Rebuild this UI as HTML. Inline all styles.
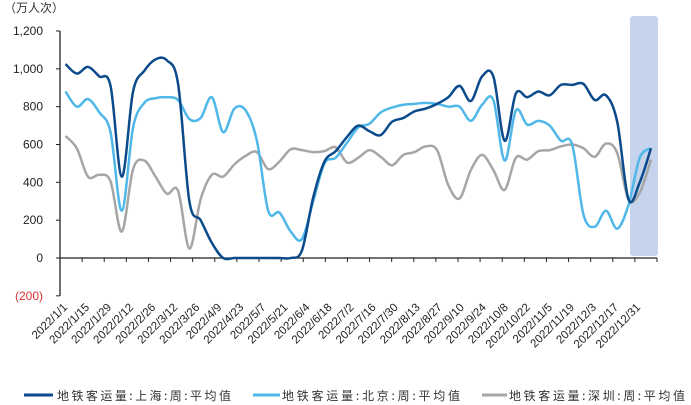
<!DOCTYPE html>
<html><head><meta charset="utf-8"><style>
html,body{margin:0;padding:0;background:#fff;}
svg{display:block;font-family:"Liberation Sans","Noto Sans CJK SC",sans-serif;}
</style></head><body>
<svg id="chart" width="691" height="405" viewBox="0 0 691 405">
<text x="4" y="12" font-size="12" fill="#333">（万人次）</text>
<rect x="630" y="16" width="28" height="240" rx="3" fill="#c5d3ec"/>
<g id="axes"></g>
<g id="series"></g>
<g id="legend" font-size="12" fill="#333">
<line x1="24" y1="395" x2="53" y2="395" stroke="#0b4a8b" stroke-width="3"/>
<text x="57" y="400" textLength="174" font-family="'Noto Sans CJK SC',sans-serif">地铁客运量:上海:周:平均值</text>
<line x1="253" y1="395" x2="280" y2="395" stroke="#4fb8e8" stroke-width="3"/>
<text x="282" y="400" textLength="178" font-family="'Noto Sans CJK SC',sans-serif">地铁客运量:北京:周:平均值</text>
<line x1="482" y1="395" x2="507" y2="395" stroke="#a6a6a6" stroke-width="3"/>
<text x="509" y="400" textLength="176" font-family="'Noto Sans CJK SC',sans-serif">地铁客运量:深圳:周:平均值</text>
</g>
</svg>
<script>
const yTicks = [1200,1000,800,600,400,200,0,-200];
const xLabels = ["2022/1/1","2022/1/15","2022/1/29","2022/2/12","2022/2/26","2022/3/12","2022/3/26","2022/4/9","2022/4/23","2022/5/7","2022/5/21","2022/6/4","2022/6/18","2022/7/2","2022/7/16","2022/7/30","2022/8/13","2022/8/27","2022/9/10","2022/9/24","2022/10/8","2022/10/22","2022/11/5","2022/11/19","2022/12/3","2022/12/17","2022/12/31"];
const shanghai = [1025,975,1010,960,910,430,880,990,1050,1045,920,300,200,80,0,0,0,0,0,0,0,40,320,510,565,640,700,670,650,720,740,775,790,815,850,910,830,960,960,620,870,850,880,860,915,915,920,835,860,720,310,400,580];
const beijing = [880,800,840,770,665,250,690,820,845,850,835,735,740,850,665,790,780,620,250,240,140,100,300,500,530,610,690,710,770,795,810,815,820,815,800,800,725,810,835,515,780,705,725,700,620,600,230,165,250,155,280,530,580];
const shenzhen = [645,580,430,440,405,140,470,515,430,340,355,50,310,440,430,495,540,560,470,510,575,570,560,565,585,505,530,570,535,490,545,560,590,570,385,315,465,545,465,360,530,520,565,570,590,600,580,535,605,555,310,345,520];

const NS="http://www.w3.org/2000/svg";
const X0=60, X1=657, N=53;
const xPt = i => 65.5 + i*(651-65.5)/(N-1);
const yPt = v => 258 - v*(258-31)/1200;
function mk(tag, attrs, parent){const e=document.createElementNS(NS,tag);for(const k in attrs)e.setAttribute(k,attrs[k]);parent.appendChild(e);return e;}
const axes=document.getElementById('axes');
const ya=mk('line',{x1:X0,y1:yPt(1200),x2:X0,y2:yPt(-200),stroke:'#222','stroke-width':1.3},axes);


yTicks.forEach(v=>{
  const t=mk('line',{x1:X0-4,y1:yPt(v),x2:X0,y2:yPt(v),stroke:'#222','stroke-width':1},axes);
  
  
  const lab=mk('text',{x:43,y:yPt(v)+4,'text-anchor':'end','font-size':12,fill:v<0?'#e03030':'#222'},axes);
  lab.textContent = v<0?'('+Math.abs(v)+')':v.toLocaleString('en-US');
  
  
});
const xa=mk('line',{x1:X0,y1:yPt(0),x2:X1,y2:yPt(0),stroke:'#222','stroke-width':1.3},axes);


const step=(X1-X0)/27;
for(let k=0;k<=27;k++){
  const t=mk('line',{x1:X0+k*step,y1:yPt(0),x2:X0+k*step,y2:yPt(0)+4,stroke:'#222','stroke-width':1},axes);
  
  
}
xLabels.forEach((s,k)=>{
  const x=68+k*22.04, y=308;
  const t=mk('text',{x:x,y:y,'text-anchor':'end','font-size':11.5,fill:'#222',transform:`rotate(-45 ${x} ${y})`},axes);
  t.textContent=s;
  
  
});
function pathFor(vals){
  const p=vals.map((v,i)=>[xPt(i),yPt(v)]);
  let d=`M${p[0][0]},${p[0][1]}`;
  for(let i=0;i<p.length-1;i++){
    const p0=p[i-1]||p[i],p1=p[i],p2=p[i+1],p3=p[i+2]||p2;
    const c1=[p1[0]+(p2[0]-p0[0])/6,p1[1]+(p2[1]-p0[1])/6];
    const c2=[p2[0]-(p3[0]-p1[0])/6,p2[1]-(p3[1]-p1[1])/6];
    d+=` C${c1[0]},${c1[1]} ${c2[0]},${c2[1]} ${p2[0]},${p2[1]}`;
  }
  return d;
}
const sg=document.getElementById('series');
const g1=mk('path',{d:pathFor(shenzhen),fill:'none',stroke:'#a6a6a6','stroke-width':2.5},sg);


const g2=mk('path',{d:pathFor(beijing),fill:'none',stroke:'#4fb8e8','stroke-width':2.5},sg);


const g3=mk('path',{d:pathFor(shanghai),fill:'none',stroke:'#0b4a8b','stroke-width':2.5},sg);


</script>
</body></html>
